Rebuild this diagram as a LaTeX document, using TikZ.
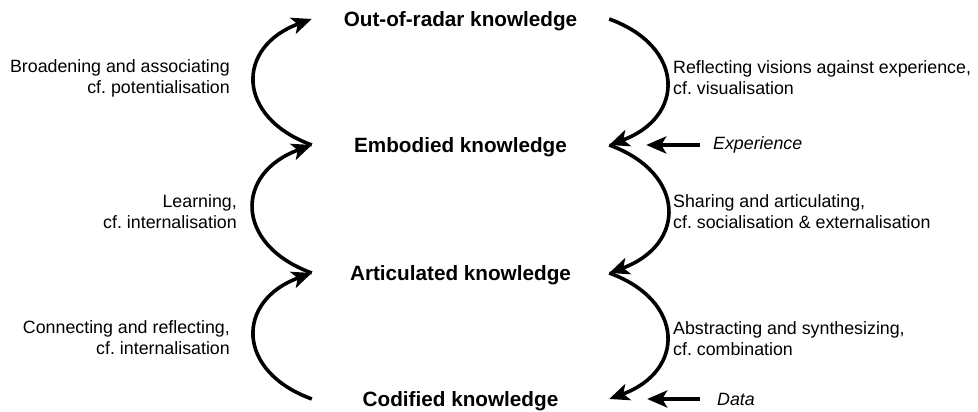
\documentclass[tikz,border=0pt]{standalone}
\usepackage{fontspec}
\setmainfont{Liberation Sans}
\usetikzlibrary{arrows.meta}
\frenchspacing
\begin{document}
\begin{tikzpicture}[x=1pt,y=1pt,
  know/.style={font=\fontsize{20.7}{24}\selectfont\bfseries, minimum width=297pt,
    text height=16pt, text depth=0pt, inner sep=0pt, anchor=center},
  lab/.style={font=\fontsize{17.8}{21}\selectfont, inner sep=0pt},
  labL/.style={lab, align=right, anchor=east},
  labR/.style={lab, align=left, anchor=west},
  inp/.style={font=\fontsize{17.8}{21}\selectfont\itshape, inner sep=0pt, anchor=west},
  arr/.style={line width=3.6pt, -{Stealth[length=20pt,width=17pt,inset=5pt]}}
]
\useasboundingbox (0,0) rectangle (978,412);

\node[know] (out) at (460.5,393) {Out-of-radar knowledge};
\node[know] (emb) at (460.5,267) {Embodied knowledge};
\node[know] (art) at (460.5,139) {Articulated knowledge};
\node[know] (cod) at (460.5,13) {Codified knowledge};

% left arcs (upwards)
\draw[arr] (emb.west) to[out=160,in=200,looseness=1.65] (out.west);
\draw[arr] (art.west) to[out=160,in=200,looseness=1.65] (emb.west);
\draw[arr] (cod.west) to[out=160,in=200,looseness=1.65] (art.west);

% right arcs (downwards)
\draw[arr] (out.east) to[out=-20,in=20,looseness=1.65] (emb.east);
\draw[arr] (emb.east) to[out=-20,in=20,looseness=1.65] (art.east);
\draw[arr] (art.east) to[out=-20,in=20,looseness=1.65] (cod.east);

% labels
\node[labL] (l1) at (230,334) {Broadening and associating\\cf. potentialisation};
\node[labL] (l2) at (237,200) {Learning,\\cf. internalisation};
\node[labL] (l3) at (230,74) {Connecting and reflecting,\\cf. internalisation};
\node[labR] (r1) at (673,334) {Reflecting visions against experience,\\cf. visualisation};
\node[labR] (r2) at (673,200) {Sharing and articulating,\\cf. socialisation \& externalisation};
\node[labR] (r3) at (673,73) {Abstracting and synthesizing,\\cf. combination};

% inputs
\node[inp] (exp) at (713,267) {Experience};
\node[inp] (dat) at (717,13) {Data};
\draw[arr] ([xshift=-13pt]exp.west) -- ([xshift=37pt]emb.east);
\draw[arr] ([xshift=-17pt]dat.west) -- ([xshift=38pt]cod.east);
\end{tikzpicture}
\end{document}
